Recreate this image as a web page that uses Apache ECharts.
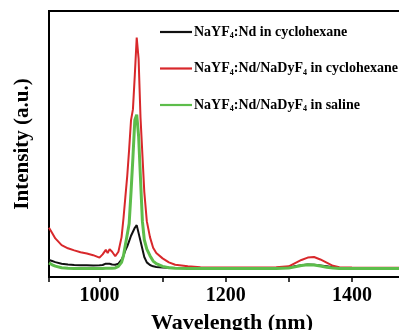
<!DOCTYPE html>
<html>
<head>
<meta charset="utf-8">
<script src="https://cdn.jsdelivr.net/npm/echarts@6/dist/echarts.min.js"></script>
<style>
html, body { margin: 0; padding: 0; background: #fff; }
#chart { width: 399px; height: 330px; }
</style>
</head>
<body>
<div id="chart"></div>
<script>
var wavelength = [920, 925, 930, 940, 950, 960, 970, 980, 990, 1000, 1005, 1010, 1013, 1016, 1020, 1025, 1030, 1035, 1038, 1041,
    1044, 1047, 1050, 1053, 1056, 1059, 1062, 1065, 1068, 1071, 1075, 1080, 1085, 1090, 1100, 1110, 1120, 1140, 1160, 1200,
    1250, 1280, 1300, 1310, 1320, 1330, 1340, 1350, 1360, 1370, 1380, 1400, 1450, 1500];
var ndCyclo = [6.4, 6, 5.6, 5, 4.7, 4.5, 4.4, 4.4, 4.3, 4.4, 4.5, 5, 5.2, 5, 4.7, 4.6, 5, 6.5, 8, 10,
    11.5, 13.5, 15.5, 17, 18.5, 19.5, 16.5, 13.5, 10.5, 7.5, 5.5, 4.5, 4, 3.8, 3.6, 3.5, 3.4, 3.4, 3.4, 3.4,
    3.4, 3.4, 3.6, 4, 4.4, 4.7, 4.6, 4.3, 4, 3.7, 3.5, 3.4, 3.4, 3.4];
var dyCyclo = [18.5, 16.5, 14.5, 12, 10.8, 10, 9.3, 8.8, 8.2, 7.3, 8.5, 10.2, 9, 10.5, 9.5, 7.8, 9.5, 15, 22, 30,
    38, 48, 59, 63, 76, 90, 82, 60, 46, 32, 21, 15, 11, 9, 7, 5.5, 4.6, 4, 3.7, 3.6,
    3.6, 3.7, 4, 5.2, 6.4, 7.3, 7.5, 6.6, 5.4, 4.2, 3.7, 3.6, 3.5, 3.5];
var dySaline = [5.3, 4.6, 4.1, 3.5, 3.3, 3.2, 3.2, 3.2, 3.2, 3.2, 3.2, 3.3, 3.3, 3.3, 3.3, 3.4, 4, 5.5, 8, 12,
    16, 20, 32, 45, 59, 61, 53, 37, 21, 14, 10.5, 8, 6, 5, 4, 3.5, 3.3, 3.2, 3.2, 3.2,
    3.2, 3.2, 3.4, 3.8, 4.3, 4.6, 4.5, 4.1, 3.7, 3.4, 3.2, 3.2, 3.2, 3.2];
var seriesNames = ['NaYF4:Nd in cyclohexane', 'NaYF4:Nd/NaDyF4 in cyclohexane', 'NaYF4:Nd/NaDyF4 in saline'];
var seriesColors = ['#111111', '#d8282b', '#5dbd4b'];

function pairs(ys) {
    var out = [];
    for (var i = 0; i < wavelength.length; i++) {
        out.push([wavelength[i], ys[i]]);
    }
    return out;
}

var serif = "'Liberation Serif', 'Times New Roman', serif";
var chart = echarts.init(document.getElementById('chart'), null, {renderer: 'canvas'});
chart.setOption({
    animation: false,
    grid: {
        left: 49, top: 11, right: -16, bottom: 53,
        containLabel: false,
        outerBoundsMode: 'none',
        show: true, borderColor: '#000', borderWidth: 2
    },
    legend: {
        orient: 'vertical',
        left: 155,
        top: 20,
        padding: 5,
        icon: 'path://M0,0H32V2.2H0Z',
        symbolKeepAspect: true,
        itemWidth: 32,
        itemHeight: 14,
        itemGap: 21.5,
        data: seriesNames,
        formatter: function(name) {
            return name.replace(/4/g, '{s|4}');
        },
        textStyle: {
            fontFamily: serif, fontWeight: 'bold', fontSize: 14, color: '#000', padding: [0, 0, 0, -3],
            rich: {
                s: {fontFamily: serif, fontWeight: 'bold', fontSize: 8, color: '#000', padding: [8, 0, 0, 0]}
            }
        }
    },
    xAxis: {
        type: 'value',
        min: 920,
        max: 1500,
        splitNumber: 3,
        name: 'Wavelength (nm)',
        nameLocation: 'middle',
        nameGap: 35,
        nameTextStyle: {fontFamily: serif, fontWeight: 'bold', fontSize: 22, color: '#000'},
        axisLine: {lineStyle: {color: '#000', width: 2}},
        axisTick: {length: 5, lineStyle: {color: '#000', width: 1.5}},
        minorTick: {show: true, splitNumber: 2, length: 5, lineStyle: {color: '#000', width: 1.5}},
        splitLine: {show: false},
        axisLabel: {
            showMinLabel: false,
            showMaxLabel: false,
            formatter: function(v) { return String(v); },
            fontFamily: serif, fontWeight: 'bold', fontSize: 20, color: '#000', margin: 9
        }
    },
    yAxis: {
        type: 'value',
        min: 0,
        max: 100,
        name: 'Intensity (a.u.)',
        nameLocation: 'middle',
        nameGap: 16,
        nameTextStyle: {fontFamily: serif, fontWeight: 'bold', fontSize: 21, color: '#000'},
        axisLine: {show: true, lineStyle: {color: '#000', width: 2}},
        axisTick: {show: false},
        axisLabel: {show: false},
        splitLine: {show: false}
    },
    series: [
        {name: seriesNames[0], type: 'line', symbol: 'none', data: pairs(ndCyclo), color: seriesColors[0], lineStyle: {width: 2}},
        {name: seriesNames[1], type: 'line', symbol: 'none', data: pairs(dyCyclo), color: seriesColors[1], lineStyle: {width: 2}},
        {name: seriesNames[2], type: 'line', symbol: 'none', data: pairs(dySaline), color: seriesColors[2], lineStyle: {width: 3}}
    ]
});
</script>
</body>
</html>
